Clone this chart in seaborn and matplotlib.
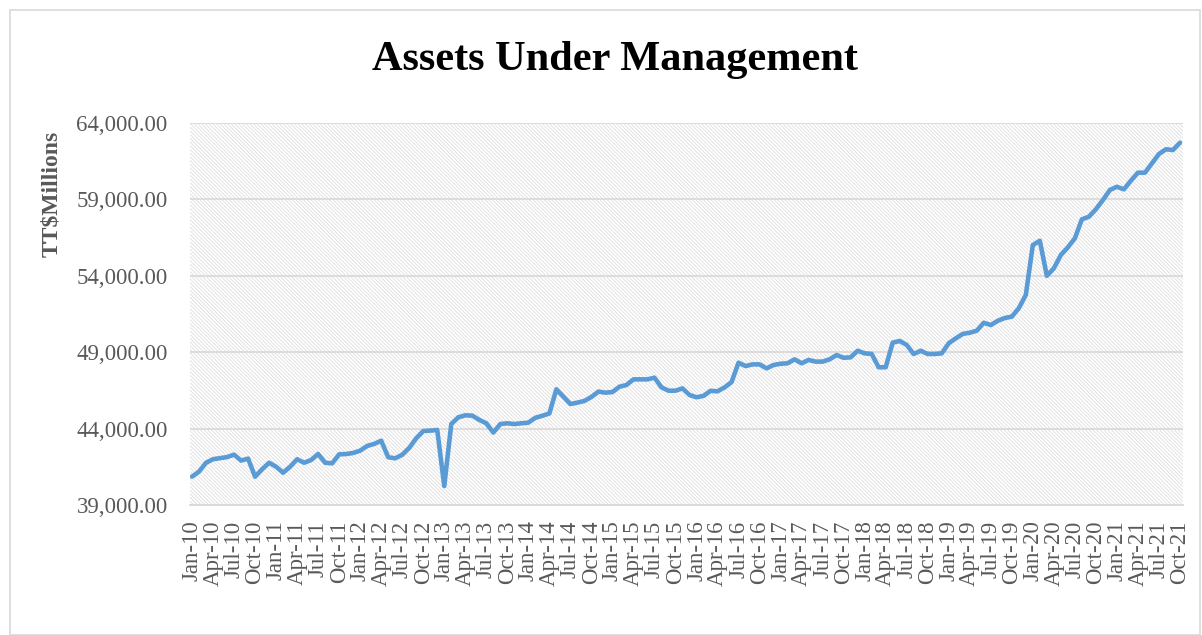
import numpy as np
import pandas as pd
import matplotlib
matplotlib.use("Agg")
import matplotlib.pyplot as plt
import seaborn as sns
from matplotlib.patches import Rectangle
from matplotlib.ticker import FuncFormatter

# Monthly AUM, TT$ millions, Jan-10 .. Oct-21
aum = [
    40870, 41200, 41780, 42010, 42080, 42150, 42310, 41920, 42050, 40870, 41350, 41780,  # 2010
    41520, 41130, 41520, 42010, 41780, 41960, 42350, 41780, 41740, 42330, 42350, 42420,  # 2011
    42570, 42880, 43010, 43220, 42140, 42070, 42300, 42750, 43380, 43850, 43880, 43920,  # 2012
    40260, 44310, 44750, 44880, 44860, 44580, 44360, 43750, 44310, 44360, 44310, 44360,  # 2013
    44400, 44720, 44850, 45000, 46580, 46100, 45620, 45710, 45820, 46080, 46430, 46360,  # 2014
    46400, 46750, 46860, 47230, 47230, 47230, 47340, 46710, 46490, 46490, 46640, 46210,  # 2015
    46060, 46150, 46480, 46450, 46700, 47050, 48320, 48100, 48210, 48210, 47950, 48170,  # 2016
    48250, 48280, 48540, 48280, 48500, 48390, 48390, 48540, 48820, 48640, 48670, 49100,  # 2017
    48930, 48890, 48020, 48020, 49630, 49740, 49480, 48890, 49100, 48890, 48890, 48930,  # 2018
    49590, 49910, 50200, 50280, 50410, 50930, 50780, 51060, 51240, 51330, 51880, 52750,  # 2019
    56010, 56290, 54000, 54490, 55360, 55860, 56450, 57690, 57860, 58350, 58950, 59610,  # 2020
    59820, 59650, 60220, 60740, 60740, 61350, 61960, 62270, 62220, 62700,                # 2021
]
months = pd.date_range("2010-01-01", periods=len(aum), freq="MS")
month_labels = [d.strftime("%b-%y") for d in months]

df = pd.DataFrame({"idx": np.arange(len(aum)), "aum": aum})

sns.set_theme(style="white")
plt.rcParams["font.family"] = ["Liberation Serif", "DejaVu Serif"]
plt.rcParams["hatch.linewidth"] = 0.6

fig = plt.figure(figsize=(12.02, 6.35), dpi=100)
ax = fig.add_axes([0.158, 0.2043, 0.826, 0.6023])

# outer chart border
fig.patches.append(Rectangle((10 / 1202, 0.0), 1190 / 1202, 1 - 10 / 635,
                             transform=fig.transFigure, fill=False,
                             edgecolor="#d9d9d9", linewidth=1.2))

# hatched plot area
ax.add_patch(Rectangle((0, 0), 1, 1, transform=ax.transAxes, facecolor="white",
                       edgecolor="#dedede", hatch="\\" * 9, linewidth=0, zorder=0))

sns.lineplot(data=df, x="idx", y="aum", ax=ax, color="#5B9BD5", linewidth=3.3, zorder=3)

ax.set_ylim(39000, 64000)
ax.set_yticks(np.arange(39000, 64001, 5000))
ax.yaxis.set_major_formatter(FuncFormatter(lambda v, p: f"{v:,.2f}"))
ax.set_xlim(-0.3, 141.4)
ax.set_xticks(df["idx"][::3])
ax.set_xticklabels(month_labels[::3], rotation=90)

ax.grid(axis="y", color="#dadada", linewidth=1.3, zorder=1)
ax.set_axisbelow(True)
for side in ["top", "right", "left"]:
    ax.spines[side].set_visible(False)
ax.spines["bottom"].set_color("#d9d9d9")
ax.spines["bottom"].set_linewidth(1.3)

ax.tick_params(axis="y", length=0, pad=16, labelsize=16.5, labelcolor="#595959")
ax.tick_params(axis="x", length=0, pad=11, labelsize=16.5, labelcolor="#595959")

ax.set_xlabel("")
ax.set_ylabel("")
fig.text(52 / 1202, 1 - 194 / 635, "TT$Millions", rotation=90, ha="center", va="center",
         fontsize=17, fontweight="bold", color="#595959")

fig.text(0.5115, 0.905, "Assets Under Management", ha="center", va="center",
         fontsize=30.5, fontweight="bold", color="black")

fig.savefig("out.png", dpi=100)
